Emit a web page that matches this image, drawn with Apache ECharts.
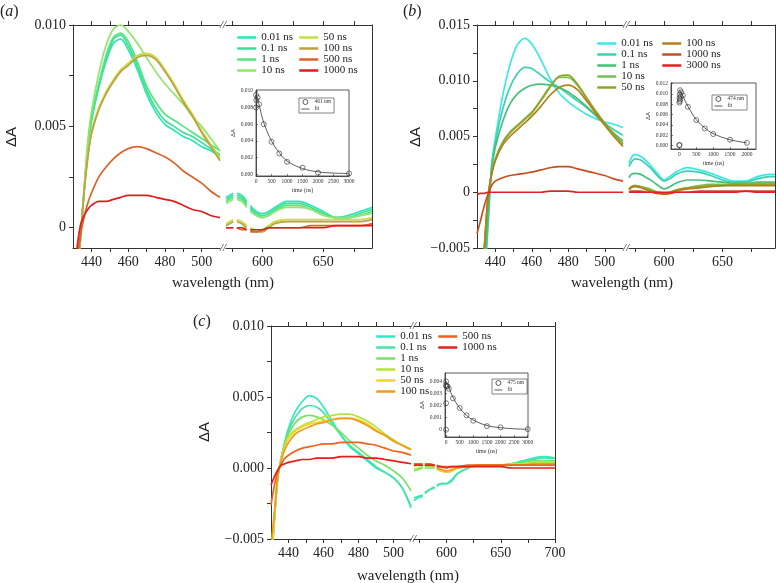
<!DOCTYPE html>
<html>
<head>
<meta charset="utf-8">
<script src="https://cdn.jsdelivr.net/npm/echarts@6/dist/echarts.min.js"></script>
<style>
  html, body { margin: 0; padding: 0; background: #fff; }
  #chart { width: 776px; height: 583px; }
</style>
</head>
<body>
<div id="chart"></div>
<script>
// ---------- data ----------
const wlLeft = [430, 432, 434, 436, 438, 440, 444, 448, 452, 456, 460, 465, 470, 475, 480, 485, 490, 495, 500, 505, 510];
const wlRightA = [570, 573, 576, 577.5, 579, 583, 587, 588.5, 590, 595, 600, 605, 610, 620, 630, 640, 650, 660, 670, 680, 690];
const wlRightB = [570, 572, 575, 580, 585, 590, 595, 600, 605, 610, 620, 630, 640, 650, 660, 670, 680, 690, 695];
const wlRightC = [570, 574, 578, 579, 580, 585, 589, 590, 591, 595, 600, 605, 610, 620, 630, 640, 650, 660, 670, 680, 690, 700];

const labelsA = ['0.01 ns', '0.1 ns', '1 ns', '10 ns', '50 ns', '100 ns', '500 ns', '1000 ns'];
const labelsB = ['0.01 ns', '0.1 ns', '1 ns', '10 ns', '50 ns', '100 ns', '1000 ns', '3000 ns'];
const labelsC = ['0.01 ns', '0.1 ns', '1 ns', '10 ns', '50 ns', '100 ns', '500 ns', '1000 ns'];

// panel (a), 430-510 nm
const aLeftVals = [
  [-0.006, -0.003, -0.0006, 0.0017, 0.0038, 0.0052, 0.0069, 0.0082, 0.0091, 0.0093, 0.0088, 0.0078, 0.0066, 0.0057, 0.0051, 0.0048, 0.0045, 0.0043, 0.0040, 0.0038, 0.0035],
  [-0.006, -0.003, -0.0006, 0.0018, 0.0039, 0.0053, 0.0070, 0.0083, 0.0093, 0.0095, 0.0090, 0.0080, 0.0068, 0.0059, 0.0053, 0.0050, 0.0047, 0.0045, 0.0042, 0.0039, 0.0036],
  [-0.006, -0.003, -0.0006, 0.0018, 0.0040, 0.0054, 0.0071, 0.0085, 0.0094, 0.0096, 0.0092, 0.0082, 0.0070, 0.0062, 0.0056, 0.0053, 0.0050, 0.0047, 0.0044, 0.0041, 0.0038],
  [-0.006, -0.003, -0.0006, 0.0019, 0.0042, 0.0057, 0.0076, 0.0090, 0.0098, 0.0100, 0.0097, 0.0091, 0.0084, 0.0077, 0.0071, 0.0066, 0.0061, 0.0055, 0.0050, 0.0044, 0.0038],
  [-0.006, -0.003, -0.0006, 0.0017, 0.0035, 0.0047, 0.0059, 0.0067, 0.0073, 0.0078, 0.0081, 0.0085, 0.0086, 0.0084, 0.0078, 0.0071, 0.0063, 0.0056, 0.0048, 0.0041, 0.0034],
  [-0.006, -0.003, -0.0006, 0.0017, 0.0034, 0.0046, 0.0058, 0.0066, 0.0072, 0.0077, 0.0080, 0.0084, 0.0085, 0.0083, 0.0077, 0.0070, 0.0062, 0.0055, 0.0047, 0.0040, 0.0033],
  [-0.004, -0.0018, -0.0004, 0.0005, 0.0012, 0.0017, 0.0025, 0.0030, 0.0034, 0.0037, 0.0039, 0.0040, 0.0039, 0.0037, 0.0035, 0.0032, 0.0028, 0.0025, 0.0022, 0.0018, 0.0015],
  [-0.0035, -0.0012, 0.0001, 0.0006, 0.0009, 0.0011, 0.0013, 0.0013, 0.0014, 0.0015, 0.0016, 0.0016, 0.0016, 0.0015, 0.0014, 0.0013, 0.0011, 0.0009, 0.0008, 0.0006, 0.0005]
];
// panel (a), 570-690 nm (null = gap in the trace)
const aRightVals = [
  [0.0015, 0.0016, 0.0017, null, 0.0017, 0.0016, 0.0013, null, 0.0011, 0.0008, 0.0007, 0.0008, 0.0010, 0.0013, 0.0013, 0.0011, 0.0008, 0.0005, 0.0006, 0.0008, 0.0010],
  [0.0014, 0.0015, 0.0016, null, 0.0016, 0.0015, 0.0012, null, 0.0010, 0.0007, 0.0006, 0.0007, 0.0009, 0.0012, 0.0012, 0.0010, 0.0007, 0.0005, 0.0005, 0.0007, 0.0009],
  [0.0013, 0.0014, 0.0015, null, 0.0015, 0.0014, 0.0011, null, 0.0009, 0.0006, 0.0005, 0.0006, 0.0008, 0.0011, 0.0011, 0.0009, 0.0007, 0.0005, 0.0005, 0.0006, 0.0008],
  [0.0012, 0.0013, 0.0014, null, 0.0014, 0.0013, 0.0010, null, 0.0008, 0.0006, 0.0005, 0.0006, 0.0008, 0.0010, 0.0010, 0.0009, 0.0006, 0.0005, 0.0005, 0.0006, 0.0007],
  [0.0002, 0.0003, 0.0004, null, 0.0004, 0.0003, 0.0001, null, 0.0000, -0.0001, -0.0001, 0.0001, 0.0003, 0.0004, 0.0004, 0.0004, 0.0004, 0.0004, 0.0004, 0.0004, 0.0005],
  [0.0001, 0.0002, 0.0003, null, 0.0003, 0.0002, 0.0000, null, -0.0001, -0.0002, -0.0002, 0.0000, 0.0002, 0.0003, 0.0003, 0.0003, 0.0003, 0.0003, 0.0003, 0.0003, 0.0004],
  [0.0000, 0.0000, 0.0000, null, 0.0000, -0.0001, -0.0001, null, -0.0002, -0.0002, -0.0001, 0.0000, 0.0000, 0.0000, 0.0000, 0.0001, 0.0001, 0.0001, 0.0001, 0.0001, 0.0002],
  [0.0000, 0.0000, 0.0000, null, 0.0000, 0.0000, -0.0001, null, -0.0001, -0.0001, -0.0001, 0.0000, 0.0000, 0.0000, 0.0000, 0.0000, 0.0000, 0.0001, 0.0001, 0.0001, 0.0001]
];

// panel (b), 430-510 nm
const bLeftVals = [
  [-0.015, -0.012, -0.008, -0.003, 0.0025, 0.0048, 0.0086, 0.0114, 0.0132, 0.0138, 0.0133, 0.0119, 0.0102, 0.0089, 0.0081, 0.0075, 0.0070, 0.0066, 0.0063, 0.0061, 0.0058],
  [-0.015, -0.012, -0.008, -0.003, 0.0022, 0.0044, 0.0074, 0.0094, 0.0106, 0.0112, 0.0111, 0.0105, 0.0099, 0.0094, 0.0088, 0.0082, 0.0076, 0.0069, 0.0062, 0.0056, 0.0051],
  [-0.014, -0.011, -0.007, -0.002, 0.0020, 0.0040, 0.0063, 0.0079, 0.0088, 0.0093, 0.0096, 0.0097, 0.0096, 0.0094, 0.0090, 0.0084, 0.0077, 0.0069, 0.0061, 0.0053, 0.0046],
  [-0.012, -0.009, -0.005, -0.0005, 0.0017, 0.0030, 0.0045, 0.0054, 0.0060, 0.0066, 0.0072, 0.0083, 0.0095, 0.0103, 0.0103, 0.0096, 0.0084, 0.0072, 0.0061, 0.0052, 0.0044],
  [-0.012, -0.009, -0.005, -0.0005, 0.0016, 0.0029, 0.0044, 0.0053, 0.0059, 0.0065, 0.0071, 0.0082, 0.0094, 0.0104, 0.0105, 0.0097, 0.0085, 0.0073, 0.0062, 0.0052, 0.0043],
  [-0.012, -0.009, -0.005, -0.0005, 0.0016, 0.0028, 0.0042, 0.0050, 0.0056, 0.0062, 0.0068, 0.0077, 0.0087, 0.0094, 0.0096, 0.0092, 0.0082, 0.0071, 0.0060, 0.0050, 0.0041],
  [-0.0037, -0.0025, -0.0012, -0.0002, 0.0006, 0.0010, 0.0013, 0.0015, 0.0016, 0.0017, 0.0018, 0.0020, 0.0022, 0.0023, 0.0023, 0.0021, 0.0019, 0.0017, 0.0015, 0.0012, 0.0010],
  [-0.0002, -0.0001, -0.0001, 0.0000, 0.0000, 0.0000, 0.0000, 0.0000, 0.0000, 0.0000, 0.0000, 0.0000, 0.0001, 0.0001, 0.0001, 0.0000, 0.0000, 0.0000, 0.0000, 0.0000, 0.0000]
];
// panel (b), 570-695 nm
const bRightVals = [
  [0.0026, 0.0031, 0.0034, 0.0032, 0.0028, 0.0022, 0.0016, 0.0011, 0.0014, 0.0018, 0.0022, 0.0020, 0.0017, 0.0013, 0.0010, 0.0010, 0.0014, 0.0016, 0.0016],
  [0.0023, 0.0027, 0.0030, 0.0029, 0.0025, 0.0020, 0.0014, 0.0010, 0.0012, 0.0016, 0.0019, 0.0018, 0.0015, 0.0011, 0.0009, 0.0009, 0.0012, 0.0014, 0.0014],
  [0.0013, 0.0016, 0.0017, 0.0016, 0.0013, 0.0010, 0.0006, 0.0003, 0.0005, 0.0008, 0.0011, 0.0011, 0.0010, 0.0009, 0.0008, 0.0008, 0.0009, 0.0009, 0.0009],
  [0.0003, 0.0005, 0.0006, 0.0005, 0.0004, 0.0002, 0.0000, -0.0001, 0.0000, 0.0002, 0.0004, 0.0006, 0.0007, 0.0007, 0.0007, 0.0008, 0.0008, 0.0008, 0.0008],
  [0.0003, 0.0005, 0.0006, 0.0005, 0.0003, 0.0001, 0.0000, -0.0001, 0.0000, 0.0002, 0.0004, 0.0005, 0.0006, 0.0006, 0.0007, 0.0007, 0.0007, 0.0007, 0.0007],
  [0.0002, 0.0004, 0.0005, 0.0004, 0.0002, 0.0000, -0.0001, -0.0002, -0.0001, 0.0001, 0.0003, 0.0004, 0.0005, 0.0006, 0.0006, 0.0006, 0.0006, 0.0006, 0.0006],
  [0.0000, 0.0001, 0.0001, 0.0001, 0.0000, 0.0000, -0.0001, -0.0001, -0.0001, 0.0000, 0.0000, 0.0001, 0.0001, 0.0001, 0.0001, 0.0001, 0.0001, 0.0001, 0.0001],
  [0.0000, 0.0000, 0.0000, 0.0000, 0.0000, 0.0000, 0.0000, 0.0000, 0.0000, 0.0000, 0.0000, 0.0000, 0.0000, 0.0000, 0.0000, 0.0001, 0.0000, 0.0000, 0.0000]
];

// panel (c), 430-510 nm
const cLeftVals = [
  [-0.007, -0.0035, -0.0005, 0.0008, 0.0019, 0.0028, 0.0040, 0.0047, 0.0051, 0.0049, 0.0043, 0.0033, 0.0023, 0.0015, 0.0010, 0.0005, 0.0000, -0.0003, -0.0007, -0.0014, -0.0028],
  [-0.007, -0.0035, -0.0005, 0.0008, 0.0018, 0.0026, 0.0036, 0.0042, 0.0044, 0.0043, 0.0039, 0.0031, 0.0023, 0.0016, 0.0011, 0.0006, 0.0001, -0.0003, -0.0007, -0.0014, -0.0027],
  [-0.007, -0.0035, -0.0005, 0.0008, 0.0017, 0.0024, 0.0032, 0.0036, 0.0037, 0.0036, 0.0034, 0.0030, 0.0025, 0.0019, 0.0014, 0.0009, 0.0005, 0.0002, -0.0002, -0.0007, -0.0016],
  [-0.007, -0.0035, -0.0005, 0.0008, 0.0016, 0.0022, 0.0027, 0.0030, 0.0032, 0.0034, 0.0036, 0.0037, 0.0038, 0.0038, 0.0036, 0.0033, 0.0029, 0.0024, 0.0020, 0.0016, 0.0013],
  [-0.007, -0.0035, -0.0005, 0.0007, 0.0015, 0.0021, 0.0026, 0.0029, 0.0031, 0.0032, 0.0033, 0.0034, 0.0035, 0.0035, 0.0034, 0.0031, 0.0027, 0.0023, 0.0019, 0.0016, 0.0013],
  [-0.0055, -0.003, -0.0005, 0.0006, 0.0013, 0.0018, 0.0024, 0.0027, 0.0029, 0.0031, 0.0032, 0.0034, 0.0035, 0.0035, 0.0033, 0.0030, 0.0026, 0.0023, 0.0019, 0.0016, 0.0013],
  [-0.0026, -0.0012, -0.0002, 0.0003, 0.0007, 0.0009, 0.0012, 0.0014, 0.0015, 0.0016, 0.0017, 0.0017, 0.0018, 0.0018, 0.0018, 0.0017, 0.0016, 0.0014, 0.0012, 0.0011, 0.0009],
  [-0.0012, -0.0006, -0.0001, 0.0002, 0.0003, 0.0004, 0.0005, 0.0006, 0.0006, 0.0007, 0.0007, 0.0007, 0.0008, 0.0008, 0.0008, 0.0007, 0.0007, 0.0006, 0.0005, 0.0004, 0.0003]
];
// panel (c), 570-700 nm (null = gap in the trace)
const cRightVals = [
  [-0.0023, -0.0021, -0.0020, null, -0.0018, -0.0015, -0.0014, null, -0.0013, -0.0011, -0.0011, -0.0009, -0.0004, 0.0000, 0.0002, 0.0002, 0.0002, 0.0003, 0.0005, 0.0007, 0.0008, 0.0007],
  [-0.0021, -0.0020, -0.0019, null, -0.0017, -0.0015, -0.0013, null, -0.0012, -0.0011, -0.0011, -0.0008, -0.0004, 0.0000, 0.0002, 0.0002, 0.0002, 0.0003, 0.0004, 0.0006, 0.0007, 0.0007],
  [-0.0002, -0.0001, 0.0000, null, 0.0000, 0.0000, 0.0000, null, -0.0001, -0.0002, -0.0003, -0.0002, 0.0000, 0.0001, 0.0002, 0.0002, 0.0002, 0.0003, 0.0004, 0.0005, 0.0005, 0.0005],
  [-0.0001, 0.0000, 0.0001, null, 0.0001, 0.0001, 0.0001, null, 0.0000, -0.0002, -0.0003, -0.0002, 0.0000, 0.0001, 0.0002, 0.0002, 0.0002, 0.0003, 0.0003, 0.0004, 0.0004, 0.0004],
  [0.0001, 0.0002, 0.0002, null, 0.0002, 0.0002, 0.0001, null, 0.0000, -0.0002, -0.0003, -0.0002, 0.0000, 0.0001, 0.0002, 0.0002, 0.0002, 0.0002, 0.0003, 0.0003, 0.0003, 0.0003],
  [0.0002, 0.0002, 0.0002, null, 0.0002, 0.0002, 0.0001, null, 0.0000, -0.0001, -0.0002, -0.0001, 0.0000, 0.0001, 0.0002, 0.0002, 0.0002, 0.0002, 0.0002, 0.0003, 0.0003, 0.0003],
  [0.0003, 0.0003, 0.0003, null, 0.0003, 0.0003, 0.0002, null, 0.0002, 0.0001, 0.0001, 0.0001, 0.0001, 0.0002, 0.0002, 0.0002, 0.0002, 0.0002, 0.0002, 0.0002, 0.0002, 0.0002],
  [0.0002, 0.0002, 0.0002, null, 0.0002, 0.0002, 0.0002, null, 0.0001, 0.0001, 0.0000, 0.0001, 0.0001, 0.0001, 0.0001, 0.0001, 0.0001, 0.0000, 0.0000, 0.0000, 0.0000, 0.0000]
];

// insets: decay at the probe wavelength
const aInsetT = [0, 0, 10, 50, 100, 250, 500, 750, 1000, 1500, 2000, 3000];
const aInsetV = [0.0080, 0.0095, 0.0089, 0.0092, 0.0084, 0.0060, 0.0039, 0.0025, 0.0015, 0.0008, 0.0002, 0.0001];
const aFitT = [0, 100, 250, 500, 750, 1000, 1500, 2000, 2500, 3000];
const aFitV = [0.0095, 0.0083, 0.0062, 0.0040, 0.0026, 0.0016, 0.0007, 0.0003, 0.00015, 0.0001];

const bInsetT = [0, 0, 0, 10, 20, 0, 30, 10, 50, 20, 100, 250, 500, 750, 1000, 1500, 2000];
const bInsetV = [0.0001, 0.0000, 0.0083, 0.0086, 0.0089, 0.0092, 0.0095, 0.0099, 0.0103, 0.0107, 0.0097, 0.0075, 0.0049, 0.0033, 0.0022, 0.0011, 0.0005];
const bFitT = [0, 100, 250, 500, 750, 1000, 1500, 2000];
const bFitV = [0.0108, 0.0096, 0.0076, 0.0050, 0.0034, 0.0023, 0.0011, 0.0005];

const cInsetT = [0, 0, 0, 0, 10, 50, 100, 250, 500, 750, 1000, 1500, 2000, 3000];
const cInsetV = [0.0000, 0.0022, 0.0040, 0.0037, 0.0036, 0.0036, 0.0034, 0.0026, 0.0018, 0.0012, 0.00075, 0.0003, 0.0002, 0.00005];
const cFitT = [0, 100, 250, 500, 750, 1000, 1500, 2000, 2500, 3000];
const cFitV = [0.0039, 0.0035, 0.0027, 0.0018, 0.0012, 0.0008, 0.00035, 0.00017, 0.00008, 0.00004];

// ---------- styles / layout ----------
const colorsA = ['#2ee6b4', '#3fde98', '#55e480', '#8ee66e', '#c8dc3c', '#bfa040', '#e0602a', '#e21c1c'];
const colorsB = ['#3ae8e4', '#3cd0b0', '#45c07a', '#74c255', '#96a425', '#b0801e', '#c4501e', '#e62020'];
const colorsC = ['#34e6c8', '#44e4a4', '#74e462', '#b4e440', '#f4d41c', '#f09a20', '#f0601e', '#e61e1e'];

const SERIF = 'Liberation Serif';
const INK = '#222';

const panels = [
  {
    id: 'a', labels: labelsA, colors: colorsA, leftVals: aLeftVals, rightX: wlRightA, rightVals: aRightVals,
    gridL: { left: 73, top: 25, width: 147, height: 223 }, gridR: { left: 226, top: 25, width: 146, height: 223 },
    yMin: -0.001, yMax: 0.010, yLabels: [0, 0.005, 0.010], yTicks: [0, 0.0025, 0.005, 0.0075, 0.010], zero: '0',
    rMax: 690, rTicks: [575, 600, 625, 650, 675], rLabels: [600, 650],
    legCols: [{ left: 236, top: 32, n: [0, 1, 2, 3] }, { left: 298, top: 32, n: [4, 5, 6, 7] }],
    inset: { grid: { left: 256, top: 90, width: 93, height: 86 }, xMin: 0, xMax: 3000, xLabels: [0, 500, 1000, 1500, 2000, 2500, 3000],
      yMin: -0.0002, yMax: 0.0101, yLabels: [0, 0.002, 0.004, 0.006, 0.008, 0.010], zero: '0.000',
      t: aInsetT, v: aInsetV, ft: aFitT, fv: aFitV, probe: '461 nm', leg: { left: 299, top: 98 } },
    tag: { x: 0, y: 12 }, breakX: 223, wl: { x: 223, y: 283 }, dA: { x: 12, y: 137 }
  },
  {
    id: 'b', labels: labelsB, colors: colorsB, leftVals: bLeftVals, rightX: wlRightB, rightVals: bRightVals,
    gridL: { left: 477, top: 25, width: 146, height: 223 }, gridR: { left: 629, top: 25, width: 146, height: 223 },
    yMin: -0.005, yMax: 0.015, yLabels: [-0.005, 0, 0.005, 0.010, 0.015],
    yTicks: [-0.005, -0.0025, 0, 0.0025, 0.005, 0.0075, 0.010, 0.0125, 0.015], zero: '0',
    rMax: 695, rTicks: [575, 600, 625, 650, 675], rLabels: [600, 650],
    legCols: [{ left: 596, top: 38, n: [0, 1, 2, 3, 4] }, { left: 661, top: 38, n: [5, 6, 7] }],
    inset: { grid: { left: 671, top: 83, width: 85, height: 66 }, xMin: -250, xMax: 2270, xLabels: [0, 500, 1000, 1500, 2000],
      yMin: -0.0007, yMax: 0.0121, yLabels: [0, 0.002, 0.004, 0.006, 0.008, 0.010, 0.012], zero: '0.000',
      t: bInsetT, v: bInsetV, ft: bFitT, fv: bFitV, probe: '474 nm', leg: { left: 712, top: 95 } },
    tag: { x: 403, y: 12 }, breakX: 626, wl: { x: 622, y: 283 }, dA: { x: 416, y: 137 }
  },
  {
    id: 'c', labels: labelsC, colors: colorsC, leftVals: cLeftVals, rightX: wlRightC, rightVals: cRightVals,
    gridL: { left: 271, top: 326, width: 140, height: 213 }, gridR: { left: 414, top: 326, width: 141, height: 213 },
    yMin: -0.005, yMax: 0.010, yLabels: [-0.005, 0, 0.005, 0.010], yTicks: [-0.005, -0.0025, 0, 0.0025, 0.005, 0.0075, 0.010], zero: '0.000',
    rMax: 700, rTicks: [575, 600, 625, 650, 675, 700], rLabels: [600, 650, 700],
    legCols: [{ left: 375, top: 331, n: [0, 1, 2, 3, 4, 5] }, { left: 437, top: 331, n: [6, 7] }],
    inset: { grid: { left: 445, top: 373, width: 83, height: 64 }, xMin: -40, xMax: 3010, xLabels: [0, 500, 1000, 1500, 2000, 2500, 3000],
      yMin: -0.0006, yMax: 0.0047, yLabels: [0, 0.001, 0.002, 0.003, 0.004], zero: '0',
      t: cInsetT, v: cInsetV, ft: cFitT, fv: cFitV, probe: '475 nm', leg: { left: 492, top: 379 } },
    tag: { x: 193, y: 322 }, breakX: 413, wl: { x: 408, y: 576 }, dA: { x: 205, y: 432 }
  }
];

// ---------- build option ----------
function pts(xs, ys) {
  return xs.map((x, i) => [x, ys[i] === null ? '-' : ys[i]]);
}
function fmtY(zero) {
  return function (v) {
    if (Math.abs(v) < 1e-12) return zero;
    return (v < 0 ? '\u2212' : '') + Math.abs(v).toFixed(3);
  };
}
const axisLine = { show: true, onZero: false, lineStyle: { color: '#333', width: 1 } };

const grids = [], xAxes = [], yAxes = [], series = [], legends = [], graphics = [];

function xPair(gi, min, max, ticks, labels) {
  const bottom = xAxes.length;
  xAxes.push({
    gridIndex: gi, type: 'value', position: 'bottom', min: min, max: max,
    axisLine: axisLine, splitLine: { show: false },
    axisTick: { show: true, length: 4, customValues: ticks, lineStyle: { color: '#333' } },
    axisLabel: { customValues: labels, formatter: v => String(v), fontFamily: SERIF, fontSize: 14, color: INK, margin: 7 }
  });
  xAxes.push({
    gridIndex: gi, type: 'value', position: 'top', min: min, max: max,
    axisLine: axisLine, splitLine: { show: false },
    axisTick: { show: true, length: 4, customValues: ticks, lineStyle: { color: '#333' } },
    axisLabel: { show: false }
  });
  return bottom;
}

panels.forEach(function (p) {
  const gL = grids.length; grids.push(p.gridL);
  const gR = grids.length; grids.push(p.gridR);

  const xL = xPair(gL, 430, 510, [440, 450, 460, 470, 480, 490, 500], [440, 460, 480, 500]);
  const xR = xPair(gR, 570, p.rMax, p.rTicks, p.rLabels);

  const yL = yAxes.length;
  yAxes.push({
    gridIndex: gL, type: 'value', position: 'left', min: p.yMin, max: p.yMax,
    axisLine: axisLine, splitLine: { show: false },
    axisTick: { show: true, length: 4, customValues: p.yTicks, lineStyle: { color: '#333' } },
    axisLabel: { customValues: p.yLabels, formatter: fmtY(p.zero), fontFamily: SERIF, fontSize: 14, color: INK, margin: 7 }
  });
  const yR = yAxes.length;
  yAxes.push({
    gridIndex: gR, type: 'value', position: 'right', min: p.yMin, max: p.yMax,
    axisLine: axisLine, splitLine: { show: false }, axisTick: { show: false }, axisLabel: { show: false }
  });

  p.labels.forEach(function (lab, i) {
    const name = p.id + '|' + lab;
    const base = {
      type: 'line', name: name, showSymbol: false, symbol: 'none', smooth: 0.3,
      lineStyle: { color: p.colors[i], width: 1.7 }, itemStyle: { color: p.colors[i] },
      silent: true, clip: true
    };
    series.push(Object.assign({}, base, { xAxisIndex: xL, yAxisIndex: yL, data: pts(wlLeft, p.leftVals[i]) }));
    series.push(Object.assign({}, base, { xAxisIndex: xR, yAxisIndex: yR, data: pts(p.rightX, p.rightVals[i]) }));
  });

  p.legCols.forEach(function (col) {
    legends.push({
      left: col.left, top: col.top, orient: 'vertical', selectedMode: false,
      itemWidth: 19, itemHeight: 2.5, itemGap: 0, padding: 0,
      lineStyle: { width: 2.5 },
      itemStyle: { opacity: 0 },
      data: col.n.map(k => p.id + '|' + p.labels[k]),
      formatter: n => n.split('|')[1],
      textStyle: { fontFamily: SERIF, fontSize: 11, lineHeight: 10.7, color: INK }
    });
  });

  // inset
  const s = p.inset;
  const gI = grids.length;
  grids.push(Object.assign({ show: true, borderColor: '#333', borderWidth: 0.8 }, s.grid));
  const xI = xAxes.length;
  xAxes.push({
    gridIndex: gI, type: 'value', min: s.xMin, max: s.xMax,
    axisLine: { show: true, onZero: false, lineStyle: { color: '#333', width: 0.8 } }, splitLine: { show: false },
    axisTick: { show: true, inside: true, length: 2, customValues: s.xLabels, lineStyle: { color: '#333', width: 0.6 } },
    axisLabel: { customValues: s.xLabels, formatter: v => String(v), fontFamily: SERIF, fontSize: 5.5, color: '#333', margin: 3 },
    name: 'time (ns)', nameLocation: 'middle', nameGap: 11,
    nameTextStyle: { fontFamily: SERIF, fontSize: 6, color: '#333' }
  });
  const yI = yAxes.length;
  yAxes.push({
    gridIndex: gI, type: 'value', min: s.yMin, max: s.yMax,
    axisLine: { show: true, onZero: false, lineStyle: { color: '#333', width: 0.8 } }, splitLine: { show: false },
    axisTick: { show: true, inside: true, length: 2, customValues: s.yLabels, lineStyle: { color: '#333', width: 0.6 } },
    axisLabel: { customValues: s.yLabels, formatter: fmtY(s.zero), fontFamily: SERIF, fontSize: 5.5, color: '#333', margin: 3 },
    name: '\u0394A', nameLocation: 'middle', nameGap: 16, nameRotate: 90,
    nameTextStyle: { fontFamily: 'Liberation Sans', fontSize: 6, color: '#333' }
  });
  series.push({
    type: 'scatter', name: p.id + '|' + s.probe, xAxisIndex: xI, yAxisIndex: yI,
    data: pts(s.t, s.v), symbol: 'circle', symbolSize: 5, silent: true, z: 4,
    itemStyle: { color: 'rgba(255,255,255,0)', borderColor: '#333', borderWidth: 0.8 }
  });
  series.push({
    type: 'line', name: p.id + '|fit', xAxisIndex: xI, yAxisIndex: yI,
    data: pts(s.ft, s.fv), smooth: 0.4, showSymbol: false, symbol: 'none', silent: true, z: 3,
    lineStyle: { color: '#333', width: 0.8 }, itemStyle: { color: '#333' }
  });
  legends.push({
    left: s.leg.left, top: s.leg.top, orient: 'vertical', selectedMode: false,
    itemWidth: 8, itemHeight: 5, itemGap: 1, padding: [1, 3, 1, 2],
    borderColor: '#333', borderWidth: 0.6,
    data: [
      { name: p.id + '|' + s.probe, icon: 'circle', itemStyle: { color: '#fff', borderColor: '#333', borderWidth: 0.8, opacity: 1 } },
      { name: p.id + '|fit', itemStyle: { opacity: 0 }, lineStyle: { color: '#333', width: 0.8 } }
    ],
    formatter: n => n.split('|')[1],
    textStyle: { fontFamily: SERIF, fontSize: 5.5, color: '#333' }
  });

  // texts
  graphics.push({
    type: 'text', x: p.tag.x, y: p.tag.y,
    style: { text: '({i|' + p.id + '})', font: '16px ' + SERIF, fill: INK, verticalAlign: 'middle',
      rich: { i: { fontStyle: 'italic', fontSize: 16, fontFamily: SERIF } } }
  });
  graphics.push({
    type: 'text', x: p.wl.x, y: p.wl.y,
    style: { text: 'wavelength (nm)', font: '15px ' + SERIF, fill: INK, align: 'center', verticalAlign: 'middle' }
  });
  graphics.push({
    type: 'text', x: p.dA.x, y: p.dA.y, rotation: Math.PI / 2,
    style: { text: '\u0394A', font: '15px Liberation Sans', fill: INK, align: 'center', verticalAlign: 'middle' }
  });
  [p.gridL.top, p.gridL.top + p.gridL.height].forEach(function (yy) {
    graphics.push({
      type: 'text', x: p.breakX, y: yy,
      style: { text: '//', font: 'italic 11px ' + SERIF, fill: '#333', align: 'center', verticalAlign: 'middle' }
    });
  });
});

const chart = echarts.init(document.getElementById('chart'));
chart.setOption({
  backgroundColor: '#ffffff',
  animation: false,
  grid: grids,
  xAxis: xAxes,
  yAxis: yAxes,
  legend: legends,
  series: series,
  graphic: graphics
});
</script>
</body>
</html>
